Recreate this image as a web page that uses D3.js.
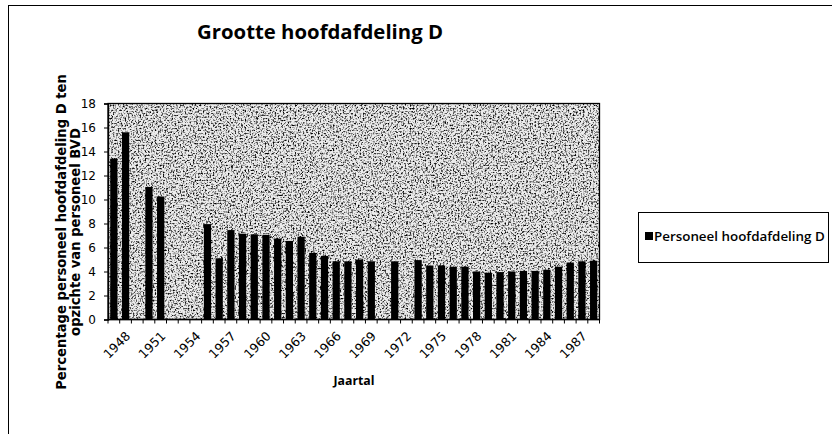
<!DOCTYPE html>
<html>
<head>
<meta charset="utf-8">
<script src="https://cdn.jsdelivr.net/npm/d3@7"></script>
<style>
  html, body { margin: 0; padding: 0; background: #fff; }
  svg { display: block; }
</style>
</head>
<body>
<svg id="chart" width="832" height="434"></svg>
<script>
const years = d3.range(1948, 1990).map(String);
const values = [
  13.4, 15.6, null, 11.05, 10.25, null, null, null, 7.95, 5.1,
  7.45, 7.15, 7.1, 7.05, 6.75, 6.55, 6.9, 5.55, 5.3, 4.85,
  4.85, 5.0, 4.85, null, 4.85, null, 4.95, 4.5, 4.5, 4.4,
  4.4, 4.0, 3.9, 3.95, 4.0, 4.05, 4.05, 4.15, 4.4, 4.75,
  4.85, 4.9
];
const yTicks = [0, 2, 4, 6, 8, 10, 12, 14, 16, 18];
const xLabelYears = ["1948","1951","1954","1957","1960","1963","1966","1969","1972","1975","1978","1981","1984","1987"];
const titleText = "Grootte hoofdafdeling D";
const yTitleLines = ["Percentage personeel hoofdafdeling D ten", "opzichte van personeel BVD"];
const xTitleText = "Jaartal";
const legendLabel = "Personeel hoofdafdeling D";

const svg = d3.select("#chart");
const font = "'DejaVu Sans', Verdana, sans-serif";
const boldFont = "'Open Sans', 'DejaVu Sans', sans-serif";

// fit helper: sets font-size so text width equals target
function fit(sel, target) {
  const w = sel.node().getComputedTextLength();
  const fs = parseFloat(sel.attr("font-size"));
  sel.attr("font-size", (fs * target / w).toFixed(2));
}

// noise texture for plot background
const defs = svg.append("defs");
const f = defs.append("filter").attr("id", "noise").attr("x", 0).attr("y", 0).attr("width", "100%").attr("height", "100%");
f.append("feTurbulence").attr("type", "fractalNoise").attr("baseFrequency", 0.6).attr("numOctaves", 2).attr("seed", 7).attr("result", "t");
f.append("feColorMatrix").attr("in", "t").attr("type", "matrix")
  .attr("values", "0 0 0 0 0  0 0 0 0 0  0 0 0 0 0  0 0 0 -3.2 1.7").attr("result", "dots");
f.append("feComposite").attr("in", "dots").attr("in2", "SourceGraphic").attr("operator", "in");

// outer chart border
svg.append("rect").attr("x", 8.5).attr("y", 5.5).attr("width", 840).attr("height", 440)
  .attr("fill", "none").attr("stroke", "#000").attr("stroke-width", 1);

const m = { left: 108, right: 599.5, top: 103.5, bottom: 319.5 };

const x = d3.scaleBand().domain(years).range([m.left, m.right]).paddingInner(0.38).paddingOuter(0.19);
const y = d3.scaleLinear().domain([0, 18]).range([m.bottom, m.top]);

// plot area background
const pw = m.right - m.left, ph = m.bottom - m.top;
svg.append("rect").attr("x", m.left).attr("y", m.top).attr("width", pw).attr("height", ph)
  .attr("fill", "#ececec");
svg.append("rect").attr("x", m.left).attr("y", m.top).attr("width", pw).attr("height", ph)
  .attr("fill", "#fff").attr("filter", "url(#noise)");
svg.append("rect").attr("x", m.left).attr("y", m.top).attr("width", pw).attr("height", ph)
  .attr("fill", "none").attr("stroke", "#000").attr("stroke-width", 1.3);

// bars
svg.append("g").selectAll("rect")
  .data(years.map((yr, i) => ({ yr, v: values[i] })).filter(d => d.v != null))
  .join("rect")
  .attr("x", d => x(d.yr))
  .attr("y", d => y(d.v))
  .attr("width", x.bandwidth())
  .attr("height", d => y(0) - y(d.v))
  .attr("fill", "#000");

// y axis
const yAxis = svg.append("g").attr("transform", `translate(${m.left},0)`)
  .call(d3.axisLeft(y).tickValues(yTicks).tickSize(4).tickPadding(8).tickFormat(d3.format("d")));
yAxis.select(".domain").attr("stroke-width", 1.3);
yAxis.selectAll("text").attr("font-family", font).attr("font-size", 12).attr("fill", "#000");

// x axis: ticks at category boundaries
const boundaries = d3.range(years.length + 1).map(i => m.left + i * pw / years.length);
const xg = svg.append("g");
xg.append("line").attr("x1", m.left).attr("x2", m.right).attr("y1", m.bottom).attr("y2", m.bottom)
  .attr("stroke", "#000").attr("stroke-width", 1.3);
xg.selectAll("line.tick").data(boundaries).join("line").attr("class", "tick")
  .attr("x1", d => d).attr("x2", d => d).attr("y1", m.bottom).attr("y2", m.bottom + 4)
  .attr("stroke", "#000");
xg.selectAll("text").data(xLabelYears).join("text")
  .attr("transform", d => `translate(${x(d) + x.bandwidth() / 2 + 11},${m.bottom + 11}) rotate(-45)`)
  .attr("text-anchor", "end")
  .attr("dy", "0.72em")
  .attr("font-family", font).attr("font-size", 12.5).attr("fill", "#000")
  .text(d => d);

// title
const title = svg.append("text").attr("x", 320).attr("y", 39).attr("text-anchor", "middle")
  .attr("font-family", boldFont).attr("font-weight", "bold").attr("font-size", 16)
  .text(titleText);
fit(title, 246);

// x title
const xt = svg.append("text").attr("x", 354).attr("y", 385).attr("text-anchor", "middle")
  .attr("font-family", boldFont).attr("font-weight", "bold").attr("font-size", 13)
  .text(xTitleText);
fit(xt, 41);

// y title (two centred lines)
const yl2 = svg.append("text").attr("transform", "translate(80,232) rotate(-90)")
  .attr("text-anchor", "middle").attr("font-family", font).attr("font-weight", "bold").attr("font-size", 12)
  .text(yTitleLines[1]);
fit(yl2, 208);
svg.append("text").attr("transform", "translate(66,232) rotate(-90)")
  .attr("text-anchor", "middle").attr("font-family", font).attr("font-weight", "bold")
  .attr("font-size", yl2.attr("font-size"))
  .text(yTitleLines[0]);

// legend
const lg = svg.append("g");
lg.append("rect").attr("x", 638.5).attr("y", 212.5).attr("width", 190).attr("height", 50)
  .attr("fill", "#fff").attr("stroke", "#000").attr("stroke-width", 1);
lg.append("rect").attr("x", 645).attr("y", 232).attr("width", 8).attr("height", 8)
  .attr("fill", "#000");
const lt = lg.append("text").attr("x", 654).attr("y", 241)
  .attr("font-family", boldFont).attr("font-weight", "600").attr("font-size", 12)
  .text(legendLabel);
fit(lt, 171);
</script>
</body>
</html>
